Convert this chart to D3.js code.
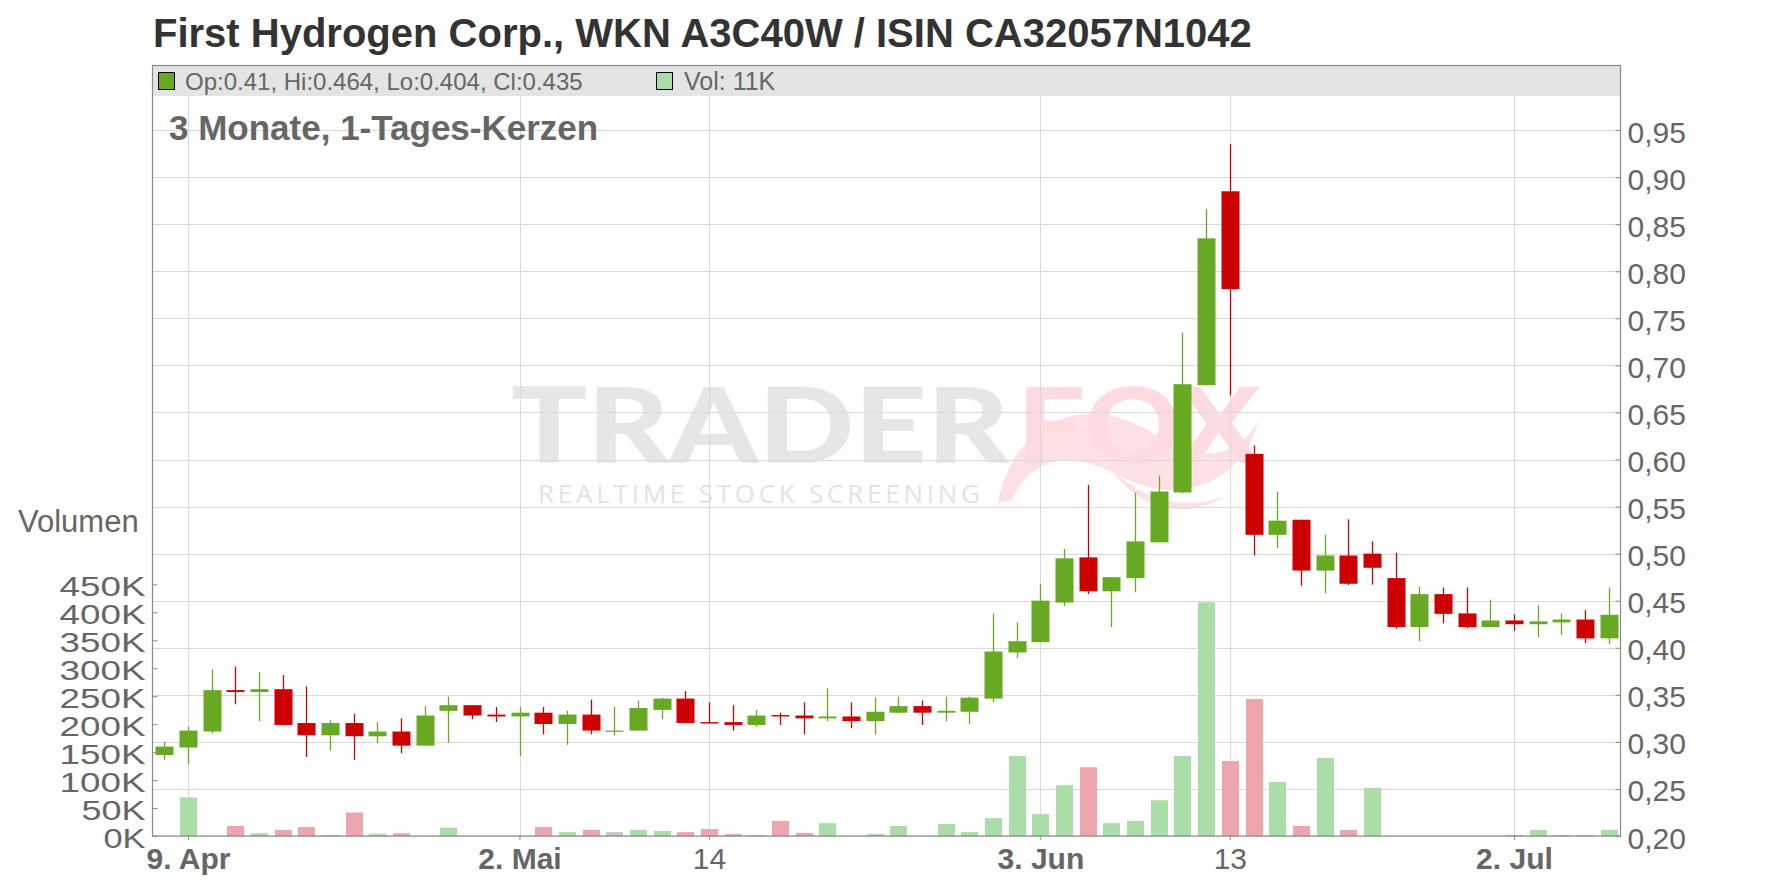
<!DOCTYPE html>
<html><head><meta charset="utf-8">
<script src="https://cdn.jsdelivr.net/npm/d3@7"></script>
<style>
body{margin:0;background:#fff;}
svg{display:block;font-family:"Liberation Sans",Arial,sans-serif;}
</style>
</head><body>
<svg id="c" width="1776" height="888"></svg>
<script>
// ---------------- DATA ----------------
const dates = ["2024-04-08","2024-04-09","2024-04-10","2024-04-11","2024-04-12","2024-04-15","2024-04-16","2024-04-17","2024-04-18","2024-04-22",
"2024-04-23","2024-04-24","2024-04-25","2024-04-29","2024-04-30","2024-05-02","2024-05-03","2024-05-06","2024-05-07","2024-05-08",
"2024-05-09","2024-05-10","2024-05-13","2024-05-14","2024-05-15","2024-05-16","2024-05-17","2024-05-20","2024-05-21","2024-05-22",
"2024-05-23","2024-05-24","2024-05-27","2024-05-28","2024-05-29","2024-05-30","2024-05-31","2024-06-03","2024-06-04","2024-06-05",
"2024-06-06","2024-06-07","2024-06-10","2024-06-11","2024-06-12","2024-06-13","2024-06-14","2024-06-17","2024-06-18","2024-06-19",
"2024-06-21","2024-06-24","2024-06-25","2024-06-26","2024-06-27","2024-06-28","2024-07-01","2024-07-02","2024-07-03","2024-07-04",
"2024-07-05","2024-07-08"];
const open = [0.286,0.294,0.311,0.355,0.353,0.356,0.320,0.307,0.320,0.306,
0.311,0.296,0.333,0.339,0.329,0.327,0.331,0.319,0.329,0.3115,
0.312,0.334,0.346,0.321,0.321,0.318,0.3285,0.328,0.325,0.327,
0.322,0.331,0.338,0.331,0.332,0.346,0.395,0.406,0.448,0.496,
0.460,0.474,0.512,0.565,0.679,0.885,0.606,0.520,0.536,0.482,
0.498,0.500,0.474,0.422,0.457,0.4365,0.422,0.429,0.425,0.427,
0.430,0.41];
const high = [0.300,0.316,0.377,0.380,0.374,0.371,0.359,0.323,0.330,0.321,
0.325,0.338,0.348,0.339,0.337,0.337,0.337,0.333,0.345,0.337,
0.344,0.347,0.354,0.342,0.339,0.334,0.331,0.342,0.357,0.342,
0.347,0.348,0.344,0.348,0.348,0.4365,0.427,0.468,0.505,0.573,
0.475,0.565,0.583,0.735,0.866,0.935,0.615,0.566,0.536,0.520,
0.5365,0.513,0.501,0.465,0.464,0.464,0.451,0.4355,0.445,0.4365,
0.440,0.464];
const low = [0.281,0.276,0.309,0.340,0.322,0.318,0.284,0.291,0.281,0.299,
0.288,0.296,0.299,0.324,0.321,0.285,0.308,0.297,0.308,0.307,
0.312,0.324,0.320,0.3195,0.312,0.316,0.318,0.308,0.322,0.3145,
0.308,0.3305,0.318,0.322,0.319,0.342,0.389,0.406,0.444,0.457,
0.422,0.459,0.512,0.564,0.679,0.668,0.498,0.506,0.466,0.458,
0.4667,0.467,0.420,0.407,0.426,0.421,0.422,0.418,0.411,0.4135,
0.405,0.404];
const close = [0.295,0.312,0.355,0.353,0.356,0.318,0.307,0.320,0.306,0.311,
0.296,0.328,0.339,0.328,0.327,0.331,0.319,0.329,0.312,0.312,
0.336,0.346,0.320,0.3195,0.318,0.328,0.327,0.325,0.327,0.322,
0.332,0.338,0.331,0.333,0.347,0.396,0.407,0.450,0.495,0.460,
0.475,0.513,0.566,0.680,0.835,0.781,0.520,0.535,0.482,0.498,
0.468,0.485,0.422,0.457,0.436,0.422,0.429,0.425,0.428,0.430,
0.410,0.435];
const volume = [0,69000,0,18000,5000,11000,16000,2000,42000,4000,
5000,0,15000,0,0,0,16000,7000,11000,7000,
11000,9000,7000,12500,3500,2000,27000,5500,23000,0,
3500,18000,0,21500,7000,32000,143000,39000,91000,123000,
23000,27000,64000,143000,418000,134000,245000,96500,18000,139500,
11000,86000,0,0,0,0,0,2000,11000,2000,
2000,11000];
const priceTicks = [0.20,0.25,0.30,0.35,0.40,0.45,0.50,0.55,0.60,0.65,0.70,0.75,0.80,0.85,0.90,0.95];
const volumeTicks = [0,50000,100000,150000,200000,250000,300000,350000,400000,450000];
const xTickDates = ["2024-04-09","2024-05-02","2024-05-14","2024-06-03","2024-06-13","2024-07-02"];
const xTickLabels = ["9. Apr","2. Mai","14","3. Jun","13","2. Jul"];
const titleText = "First Hydrogen Corp., WKN A3C40W / ISIN CA32057N1042";
const subtitleText = "3 Monate, 1-Tages-Kerzen";
const volumeAxisTitle = "Volumen";

// ---------------- LAYOUT ----------------
const L = 152.5, R = 1620.5, T = 65, B = 836, bandH = 31;
const GREEN = "#67a922", RED = "#cc0000";
const VGREEN = "#abdda8", VRED = "#eea6ae", VGRAY = "#c6c6c6";
const TXT = "#666666", GRID = "#d9d9d9", FRAME = "#8a8a8a";

const svg = d3.select("#c");
const x = d3.scalePoint().domain(dates).range([L, R]).padding(0.5);
const y = d3.scaleLinear().domain([0.20, 0.95]).range([B, 130.1]);
const yv = d3.scaleLinear().domain([0, 450000]).range([B, 584.4]);

// legend band
svg.append("rect").attr("x", L).attr("y", T).attr("width", R - L).attr("height", bandH).attr("fill", "#e4e4e4");

// watermark
const wm = svg.append("g");
wm.append("path")
  .attr("d", "M998,503 C1008,445 1050,410 1100,414 C1140,418 1165,445 1195,452 C1225,459 1250,440 1258,420 C1250,462 1215,488 1175,490 C1140,492 1115,470 1085,462 C1050,455 1025,470 1012,500 Z M1110,468 C1140,500 1190,512 1225,496 C1195,516 1145,518 1110,468 Z")
  .attr("fill", "#fde1e4");
wm.append("text").attr("x", 511).attr("y", 463).attr("font-size", 104).attr("font-weight", 900)
  .attr("font-family", "Lato, 'Open Sans', sans-serif").attr("fill", "#e6e6e6")
  .attr("textLength", 498).attr("lengthAdjust", "spacingAndGlyphs").text("TRADER");
wm.append("text").attr("x", 1017).attr("y", 463).attr("font-size", 104).attr("font-weight", 900)
  .attr("font-family", "Lato, 'Open Sans', sans-serif").attr("fill", "#fddbe0")
  .attr("textLength", 243).attr("lengthAdjust", "spacingAndGlyphs").text("FOX");
wm.append("text").attr("x", 538).attr("y", 503).attr("font-size", 26)
  .attr("font-family", "'Open Sans', sans-serif").attr("fill", "#e3e3e3")
  .attr("textLength", 442).attr("lengthAdjust", "spacing").text("REALTIME STOCK SCREENING");

// grid
const grid = svg.append("g").attr("stroke", GRID).attr("stroke-width", 1);
priceTicks.forEach(t => {
  const yy = Math.round(y(t)) + 0.5;
  grid.append("line").attr("x1", L).attr("x2", R).attr("y1", yy).attr("y2", yy);
});
xTickDates.forEach(d => {
  const xx = Math.round(x(d)) + 0.5;
  grid.append("line").attr("x1", xx).attr("x2", xx).attr("y1", T + bandH).attr("y2", B);
});

// volume bars
const volColor = i => {
  if (i === 0) return VGREEN;
  if (close[i] > close[i - 1]) return VGREEN;
  if (close[i] < close[i - 1]) return VRED;
  return VGRAY;
};
svg.append("g").selectAll("rect").data(dates).join("rect")
  .attr("x", d => Math.round(x(d)) - 8)
  .attr("width", 17)
  .attr("y", (d, i) => yv(volume[i]))
  .attr("height", (d, i) => B - yv(volume[i]))
  .attr("fill", (d, i) => volColor(i));

// candles
const cg = svg.append("g");
dates.forEach((d, i) => {
  const col = close[i] >= open[i] ? GREEN : RED;
  const cx = Math.round(x(d)) + 0.5;
  cg.append("line").attr("x1", cx).attr("x2", cx).attr("y1", y(high[i])).attr("y2", y(low[i]))
    .attr("stroke", col).attr("stroke-width", 1.3);
  const top = y(Math.max(open[i], close[i])), bot = y(Math.min(open[i], close[i]));
  cg.append("rect").attr("x", cx - 9).attr("width", 18).attr("y", top).attr("height", Math.max(1.2, bot - top))
    .attr("fill", col);
});

// frame
svg.append("rect").attr("x", L).attr("y", T + 0.5).attr("width", R - L).attr("height", B - T - 0.5)
  .attr("fill", "none").attr("stroke", FRAME).attr("stroke-width", 1.2);

// right price axis
const fmtPrice = d3.format(".2f");
const ax = svg.append("g").attr("transform", `translate(${R},0)`)
  .call(d3.axisRight(y).tickValues(priceTicks).tickSizeInner(-5).tickSizeOuter(0).tickPadding(7)
    .tickFormat(v => fmtPrice(v).replace(".", ",")));
ax.select(".domain").remove();
ax.selectAll("line").attr("stroke", FRAME);
ax.selectAll("text").attr("font-size", 30).attr("fill", TXT).attr("dy", "0.4em")
  .attr("font-family", "'Liberation Sans',Arial,sans-serif");

// left volume axis
const av = svg.append("g").attr("transform", `translate(${L},0)`)
  .call(d3.axisLeft(yv).tickValues(volumeTicks).tickSizeInner(-5).tickSizeOuter(0).tickPadding(7)
    .tickFormat(v => (v / 1000) + "K"));
av.select(".domain").remove();
av.selectAll("line").attr("stroke", FRAME);
av.selectAll("text").attr("font-size", 28).attr("fill", TXT).attr("dy", "0.4em")
  .attr("textLength", 86).attr("lengthAdjust", "spacingAndGlyphs")
  .attr("font-family", "'Liberation Sans',Arial,sans-serif");
av.selectAll("text").filter(v => v < 100000).attr("textLength", v => v === 0 ? 42 : 64);

// bottom axis
const ab = svg.append("g").attr("transform", `translate(0,${B})`)
  .call(d3.axisBottom(x).tickValues(xTickDates).tickSizeInner(4).tickSizeOuter(0).tickPadding(8)
    .tickFormat(d => xTickLabels[xTickDates.indexOf(d)]));
ab.select(".domain").remove();
ab.selectAll("line").attr("stroke", FRAME);
ab.selectAll("text").attr("font-size", 30).attr("fill", TXT)
  .attr("font-weight", d => xTickLabels[xTickDates.indexOf(d)].includes(".") ? "bold" : "normal")
  .attr("font-family", "'Liberation Sans',Arial,sans-serif");

// titles
svg.append("text").attr("x", 153).attr("y", 46.5).attr("font-size", 40).attr("font-weight", "bold")
  .attr("fill", "#333333").text(titleText);
svg.append("text").attr("x", 169).attr("y", 140).attr("font-size", 35).attr("font-weight", "bold")
  .attr("fill", TXT).text(subtitleText);
svg.append("text").attr("x", 18).attr("y", 532).attr("font-size", 31).attr("fill", TXT).text(volumeAxisTitle);

// legend
const last = dates.length - 1;
svg.append("rect").attr("x", 158.5).attr("y", 72.5).attr("width", 16).attr("height", 17)
  .attr("fill", GREEN).attr("stroke", "#000").attr("stroke-width", 1);
svg.append("text").attr("x", 185).attr("y", 89.5).attr("font-size", 24).attr("fill", TXT)
  .text(`Op:${open[last]}, Hi:${high[last]}, Lo:${low[last]}, Cl:${close[last]}`);
svg.append("rect").attr("x", 656.5).attr("y", 72.5).attr("width", 16).attr("height", 17)
  .attr("fill", VGREEN).attr("stroke", "#000").attr("stroke-width", 1);
svg.append("text").attr("x", 684).attr("y", 89.5).attr("font-size", 25).attr("fill", TXT)
  .text(`Vol: ${Math.round(volume[last] / 1000)}K`);
</script>
</body></html>
